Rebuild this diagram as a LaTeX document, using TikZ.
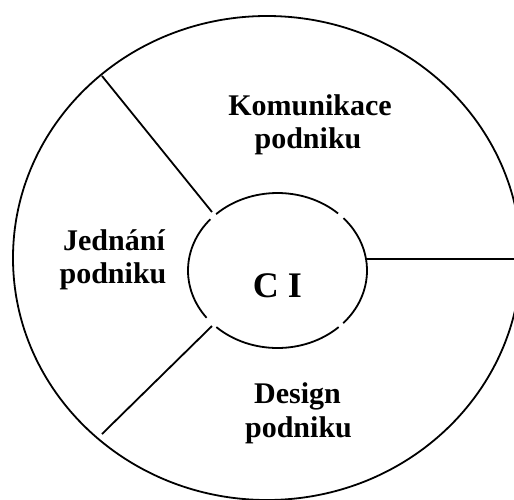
\documentclass[tikz,border=0pt]{standalone}
\usepackage{fontspec}
\setmainfont{Liberation Serif}
\usetikzlibrary{calc}
\begin{document}
\begin{tikzpicture}[x=1pt,y=-1pt,
  ring/.style={line width=1.8pt,black},
  spoke/.style={line width=1.8pt,black},
  lbl/.style={anchor=base,inner sep=0pt,font=\fontsize{30}{33}\selectfont\bfseries},
  cilbl/.style={anchor=base,inner sep=0pt,font=\fontsize{36}{40}\selectfont\bfseries}]
\useasboundingbox (0,0) rectangle (514,499);
\fill[white] (0,0) rectangle (514,499);
\clip (0,0) rectangle (514,499);
% outer ring
\coordinate (oc) at (267,258);
\draw[ring] (oc) ellipse [x radius=254, y radius=242];
% inner ring as four arcs with small gaps
\coordinate (ic) at (277.5,270.5);
\draw[ring] ($(ic)+(226.7:89.5 and 77.5)$) arc[start angle=226.7,end angle=312.6,x radius=89.5,y radius=77.5];
\draw[ring] ($(ic)+(317.5:89.5 and 77.5)$) arc[start angle=317.5,end angle=402.8,x radius=89.5,y radius=77.5];
\draw[ring] ($(ic)+(46.9:89.5 and 77.5)$) arc[start angle=46.9,end angle=133.1,x radius=89.5,y radius=77.5];
\draw[ring] ($(ic)+(142.4:89.5 and 77.5)$) arc[start angle=142.4,end angle=221.4,x radius=89.5,y radius=77.5];
% spokes
\coordinate (ulo) at (102,76);
\coordinate (uli) at (212,212);
\coordinate (llo) at (102,434);
\coordinate (lli) at (212,326);
\coordinate (ri) at (366,259);
\coordinate (ro) at (520,259);
\draw[spoke] (ulo) -- (uli);
\draw[spoke] (llo) -- (lli);
\draw[spoke] (ri) -- (ro);
% labels
\node[lbl] (kom1) at (310,115) {Komunikace};
\node[lbl] (kom2) at (308,148) {podniku};
\node[lbl] (jed1) at (114,250) {Jednání};
\node[lbl] (jed2) at (113,283) {podniku};
\node[lbl] (des1) at (297.5,403) {Design};
\node[lbl] (des2) at (298.5,437) {podniku};
\node[cilbl] (ci) at (277.5,297) {C I};
\end{tikzpicture}
\end{document}
